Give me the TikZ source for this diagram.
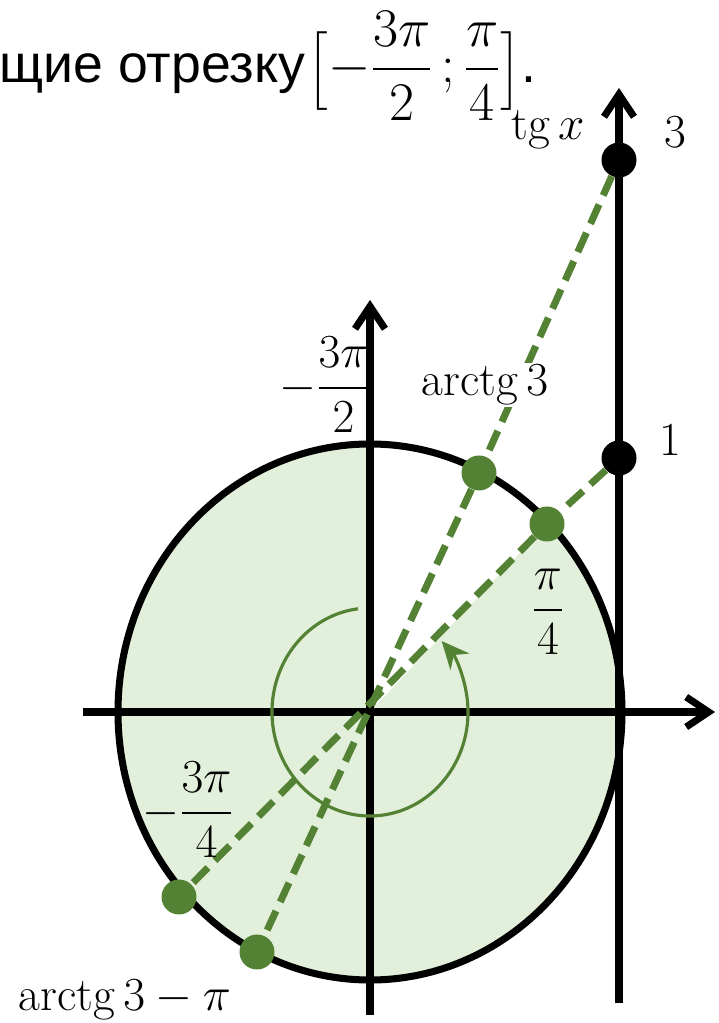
\RequirePackage{fix-cm}
\documentclass[tikz,border=0pt]{standalone}
\usepackage{amsmath}
\usepackage{fontspec}
\usepackage{tikz}
\usetikzlibrary{arrows.meta}
\newfontfamily\rusfont{Liberation Sans}
\definecolor{zel}{HTML}{548235}
\definecolor{svzel}{HTML}{E2EFDA}
\newcommand{\skobka}[1]{{\fontsize{26}{30}\selectfont$#1$}}

\begin{document}
\begin{tikzpicture}[x=0.02cm, y=0.02cm,
    os/.style={line width=4pt, -{Straight Barb[length=4.5mm, width=6mm]}},
    shtrih/.style={zel, line width=4pt, dash pattern=on 0.42cm off 0.2cm},
    gtochka/.style={circle, fill=zel, inner sep=0pt, minimum size=0.7cm},
    ctochka/.style={circle, fill=black, inner sep=0pt, minimum size=0.7cm},
    metka/.style={font=\fontsize{27}{32}\selectfont, inner sep=1pt}]

\useasboundingbox (-370,-311) rectangle (348,712);

% Заливка
\fill[svzel] (0,0) -- (0,268) arc[start angle=90, end angle=405, x radius=252, y radius=268] -- cycle;

% Оси
\coordinate (O) at (0,0);
\coordinate (xL) at (-287,0);
\coordinate (xR) at (345,0);
\coordinate (yD) at (0,-303);
\coordinate (yU) at (0,412);
\coordinate (tD) at (249,-291);
\coordinate (tU) at (249,624);
\draw[os] (xL) -- (xR);
\draw[os] (yD) -- (yU);
\draw[os] (tD) -- (tU);

% Окружность
\draw[line width=4pt] (O) ellipse[x radius=252, y radius=268];

% Дуга
\draw[zel, line width=1.8pt, -{Stealth[length=5.5mm, width=5mm]}]
    (O) ++(97:98 and 104) arc[start angle=97, end angle=403, x radius=98, y radius=104];

% Точки
\node[ctochka] (T3) at (249,552) {};
\node[ctochka] (T1) at (249,254) {};
\node[gtochka] (A3) at (109,239) {};
\node[gtochka] (P4) at (177,188) {};
\node[gtochka] (M34) at (-191,-185) {};
\node[gtochka] (A3mpi) at (-113,-240) {};

% Штриховые
\draw[shtrih] (T3) -- (A3);
\draw[shtrih] (A3) -- (A3mpi);
\draw[shtrih] (T1) -- (P4);
\draw[shtrih] (P4) -- (M34);

% Подписи
\node[metka] (l32) at (-45,327) {$-\dfrac{3\pi}{2}$};
\node[metka, fill=white] (lA3) at (115,327) {$\operatorname{arctg}3$};
\node[metka] (l1) at (300,272) {$1$};
\node[metka] (l3) at (305,580) {$3$};
\node[metka] (ltg) at (178,582) {$\operatorname{tg}x$};
\node[metka] (lp4) at (178,100) {$\dfrac{\pi}{4}$};
\node[metka] (l34) at (-182,-98) {$-\dfrac{3\pi}{4}$};
\node[metka] (lA3pi) at (-245,-288) {$\operatorname{arctg}3-\pi$};

% Заголовок
\node[anchor=base west, inner sep=0pt, font=\fontsize{30.5}{34}\selectfont] (zag) at (-371,629)
    {\rusfont щие отрезку\hspace{-0.24cm} \skobka{\Bigl[}{\fontsize{31}{36}\selectfont$-\dfrac{3\pi}{2}\,;\dfrac{\pi}{4}$}\skobka{\Bigr]}.};

\end{tikzpicture}
\end{document}
